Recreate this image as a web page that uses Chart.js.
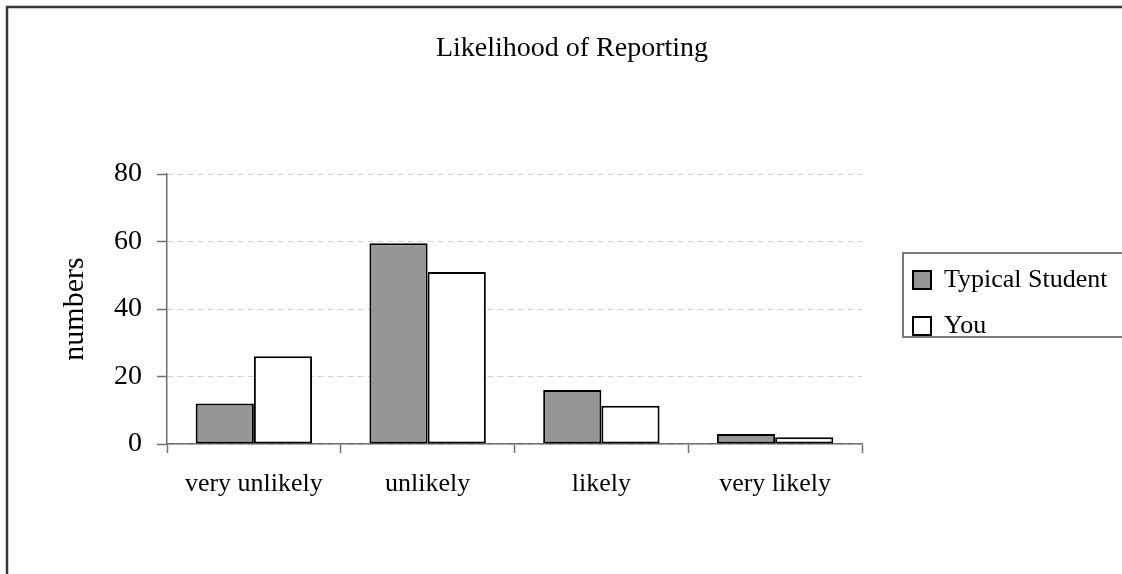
<!DOCTYPE html>
<html>
<head>
<meta charset="utf-8">
<script src="https://cdn.jsdelivr.net/npm/chart.js@4"></script>
<style>
  body { margin: 0; background: #fff; }
  canvas { display: block; }
</style>
</head>
<body>
<canvas id="reportChart" width="1122" height="574"></canvas>
<script>
const categories = ["very unlikely", "unlikely", "likely", "very likely"];
const typicalStudent = [12, 59.5, 16, 3];
const you = [26, 51, 11.3, 2];
const yTicks = [0, 20, 40, 60, 80];

const serif = "'Liberation Serif', 'Times New Roman', serif";

// outer frame + box around the legend, and nudging the legend like the original
const frames = {
  id: "frames",
  beforeUpdate(chart) {
    const lg = chart.legend;
    if (lg && !lg._fixedWidth) {
      const fit = lg.fit;
      lg.fit = function () {
        fit.call(this);
        this.width = 260; // plot ends at x=862
      };
      lg._fixedWidth = true;
    }
  },
  afterLayout(chart) {
    const lg = chart.legend;
    lg.left += 31;
    lg.right += 31;
    lg.top += 11;
    lg.bottom += 11;
  },
  beforeDraw(chart) {
    const ctx = chart.ctx;
    ctx.save();
    ctx.fillStyle = "#fff";
    ctx.fillRect(0, 0, chart.width, chart.height);
    ctx.strokeStyle = "#383838";
    ctx.lineWidth = 2.5;
    ctx.strokeRect(7, 7, chart.width + 20, chart.height + 20);
    ctx.restore();
  },
  afterDraw(chart) {
    const hb = chart.legend.legendHitBoxes;
    if (!hb || hb.length < 2) return;
    const ctx = chart.ctx;
    ctx.save();
    ctx.strokeStyle = "#7a7a7a";
    ctx.lineWidth = 2;
    const top = hb[0].top - 14;
    const bottom = hb[1].top + 24;
    ctx.strokeRect(hb[0].left - 10, top, chart.width, bottom - top);
    ctx.restore();
  },
};

const ctx = document.getElementById("reportChart").getContext("2d");
const reportChart = new Chart(ctx, {
  type: "bar",
  data: {
    labels: categories,
    datasets: [
      {
        label: "Typical Student",
        data: typicalStudent,
        backgroundColor: "#969696",
        borderColor: "#000",
        borderWidth: 2,
        borderSkipped: false,
        categoryPercentage: 0.67,
        barPercentage: 1.0,
      },
      {
        label: "You",
        data: you,
        backgroundColor: "#fff",
        borderColor: "#000",
        borderWidth: 2,
        borderSkipped: false,
        categoryPercentage: 0.67,
        barPercentage: 1.0,
      },
    ],
  },
  options: {
    responsive: false,
    animation: false,
    layout: { padding: { left: 22, top: 10, right: 0, bottom: 0 } },
    plugins: {
      title: {
        display: true,
        text: "Likelihood of Reporting",
        color: "#000",
        font: { family: serif, size: 28, weight: "normal" },
        padding: { top: 22, bottom: 108.4 },
      },
      legend: {
        position: "right",
        labels: {
          color: "#000",
          font: { family: serif, size: 26 },
          boxWidth: 18,
          boxHeight: 18,
          padding: 20,
        },
      },
      tooltip: { enabled: false },
    },
    scales: {
      x: {
        afterFit: (scale) => { scale.height = 130; },
        grid: {
          drawOnChartArea: false,
          tickLength: 9,
          tickColor: "#707070",
          tickWidth: 1.5,
        },
        border: { color: "#707070", width: 1.5 },
        ticks: {
          color: "#000",
          padding: 16,
          font: { family: serif, size: 26 },
        },
      },
      y: {
        min: 0,
        max: 80,
        afterFit: (scale) => { scale.width = 145; },
        afterBuildTicks: (scale) => {
          scale.ticks = yTicks.map((v) => ({ value: v }));
        },
        title: {
          display: true,
          text: "numbers",
          color: "#000",
          font: { family: serif, size: 30 },
          padding: { top: 35, bottom: 0 },
        },
        grid: {
          color: "#d0d0d0",
          lineWidth: 1,
          tickLength: 10,
          tickColor: "#707070",
          tickWidth: 1.5,
        },
        border: { color: "#707070", width: 1.5, dash: [6, 4] },
        ticks: {
          color: "#000",
          padding: 15,
          font: { family: serif, size: 28 },
        },
      },
    },
  },
  plugins: [frames],
});
</script>
</body>
</html>
